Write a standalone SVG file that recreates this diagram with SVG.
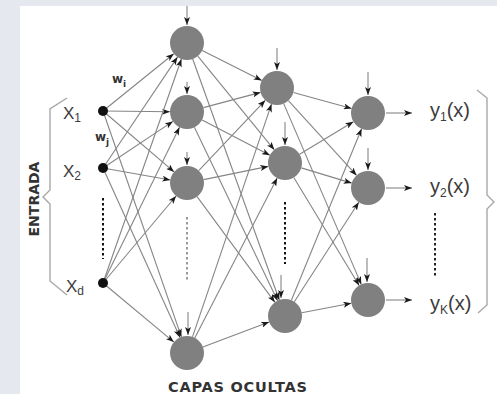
<svg xmlns="http://www.w3.org/2000/svg" width="497" height="394" viewBox="0 0 497 394">
<style>
.e{stroke:#858585;stroke-width:1.1;fill:none;marker-end:url(#ah)}
.b{stroke:#858585;stroke-width:1.1;fill:none;marker-end:url(#ah)}
.n{fill:#808080}
.d{fill:#111}
.lbl{font-family:"Liberation Sans",Arial,sans-serif;fill:#3c3c3c}
.bold{font-family:"DejaVu Sans",sans-serif;font-weight:bold;fill:#333}
.dot{stroke-dasharray:2.5 2.5;stroke-width:2;fill:none}
.br{stroke:#a8a8a8;stroke-width:1.4;fill:none}
</style>
<defs>
<marker id="ah" markerWidth="8" markerHeight="6" refX="8" refY="3" orient="auto" markerUnits="userSpaceOnUse">
<path d="M0,0 L8,3 L0,6 L2,3 Z" fill="#1a1a1a"/>
</marker>
</defs>
<rect x="0" y="0" width="497" height="394" fill="#e5e8ee"/>
<rect x="20" y="6" width="477" height="388" fill="#ffffff"/>

<g id="connectors">
<!-- input to hidden 1 -->
<line class="e" x1="103" y1="111" x2="173.8" y2="53.7"/>
<line class="e" x1="103" y1="111" x2="170" y2="111.8"/>
<line class="e" x1="103" y1="111" x2="174.1" y2="171.9"/>
<line class="e" x1="103" y1="111" x2="181.4" y2="336.9"/>
<line class="e" x1="103" y1="168" x2="177.5" y2="57.1"/>
<line class="e" x1="103" y1="168" x2="172.9" y2="121.4"/>
<line class="e" x1="103" y1="168" x2="170.3" y2="180"/>
<line class="e" x1="103" y1="168" x2="180" y2="337.5"/>
<line class="e" x1="103" y1="283" x2="181.4" y2="59"/>
<line class="e" x1="103" y1="283" x2="179.5" y2="127.3"/>
<line class="e" x1="103" y1="283" x2="176.1" y2="196"/>
<line class="e" x1="103" y1="283" x2="173.9" y2="342.1"/>
<!-- hidden 1 to hidden 2 -->
<line class="e" x1="202.2" y1="50.6" x2="261.8" y2="80.4"/>
<line class="e" x1="197.8" y1="56.2" x2="274.3" y2="149.8"/>
<line class="e" x1="192.7" y1="59" x2="279.3" y2="300"/>
<line class="e" x1="203.4" y1="107.6" x2="260.6" y2="92.4"/>
<line class="e" x1="202.1" y1="119.9" x2="269.9" y2="155.2"/>
<line class="e" x1="194.4" y1="127.3" x2="277.6" y2="300.7"/>
<line class="e" x1="198.7" y1="170.7" x2="265.3" y2="100.3"/>
<line class="e" x1="203.7" y1="179.6" x2="268.3" y2="166.4"/>
<line class="e" x1="197.1" y1="196.7" x2="274.9" y2="302.3"/>
<line class="e" x1="192.5" y1="336.9" x2="271.5" y2="104.1"/>
<line class="e" x1="194.8" y1="337.9" x2="277.2" y2="178.1"/>
<line class="e" x1="202.9" y1="347" x2="269.1" y2="322"/>
<!-- hidden 2 to output -->
<line class="e" x1="293.4" y1="92.5" x2="351.6" y2="108.5"/>
<line class="e" x1="288.4" y1="100.6" x2="356.6" y2="175.4"/>
<line class="e" x1="283.7" y1="103.6" x2="361.3" y2="284.4"/>
<line class="e" x1="299.6" y1="154.2" x2="353.4" y2="121.8"/>
<line class="e" x1="301.3" y1="167.9" x2="351.7" y2="183.1"/>
<line class="e" x1="293.8" y1="177.5" x2="359.2" y2="285.5"/>
<line class="e" x1="291.4" y1="300.3" x2="361.6" y2="128.7"/>
<line class="e" x1="294.3" y1="301.7" x2="358.8" y2="202.3"/>
<line class="e" x1="301.7" y1="312.8" x2="351.3" y2="303.2"/>
<!-- bias arrows -->
<line class="b" x1="187" y1="6" x2="187" y2="25"/>
<line class="b" x1="187" y1="82" x2="187" y2="94"/>
<line class="b" x1="187" y1="152" x2="187" y2="165"/>
<line class="b" x1="188" y1="312" x2="188" y2="335"/>
<line class="b" x1="277" y1="48" x2="277" y2="70"/>
<line class="b" x1="285" y1="122" x2="285" y2="145"/>
<line class="b" x1="281" y1="275" x2="281" y2="298"/>
<line class="b" x1="368" y1="72" x2="368" y2="95"/>
<line class="b" x1="368" y1="148" x2="368" y2="170"/>
<line class="b" x1="367" y1="258" x2="367" y2="282"/>
<!-- outputs -->
<line class="b" x1="386" y1="113" x2="412" y2="113"/>
<line class="b" x1="386" y1="188" x2="412" y2="188"/>
<line class="b" x1="386" y1="300" x2="412" y2="300"/>
</g>

<!-- dotted continuation lines -->
<line class="dot" stroke="#111" x1="103" y1="198" x2="103" y2="259"/>
<line class="dot" stroke="#9a9a9a" x1="187" y1="217" x2="187" y2="281"/>
<line class="dot" stroke="#111" x1="285" y1="202" x2="285" y2="264"/>
<line class="dot" stroke="#222" x1="435" y1="213" x2="435" y2="276"/>

<!-- braces -->
<path class="br" d="M67,98 L50,109 L50,190 L43,197 L50,204 L50,281 L67,295"/>
<path class="br" d="M477,90 L487,98 L487,195 L494,202 L487,209 L487,305 L478,313"/>

<g id="x1"><circle class="d" cx="103" cy="111" r="5"/><text class="lbl" x="63" y="119" font-size="17">X<tspan font-size="12" dy="3">1</tspan></text></g>
<g id="x2"><circle class="d" cx="103" cy="168" r="5"/><text class="lbl" x="63" y="177" font-size="17">X<tspan font-size="12" dy="3">2</tspan></text></g>
<g id="xd"><circle class="d" cx="103" cy="283" r="5"/><text class="lbl" x="66" y="292" font-size="17" fill="#4a5566">X<tspan font-size="12" dy="3">d</tspan></text></g>

<g id="h1a"><circle class="n" cx="187" cy="43" r="17"/></g>
<g id="h1b"><circle class="n" cx="187" cy="112" r="17"/></g>
<g id="h1c"><circle class="n" cx="187" cy="183" r="17"/></g>
<g id="h1d"><circle class="n" cx="187" cy="353" r="17"/></g>
<g id="h2a"><circle class="n" cx="277" cy="88" r="17"/></g>
<g id="h2b"><circle class="n" cx="285" cy="163" r="17"/></g>
<g id="h2c"><circle class="n" cx="285" cy="316" r="17"/></g>
<g id="o1"><circle class="n" cx="368" cy="113" r="17"/><text class="lbl" x="430" y="117" font-size="20">y<tspan font-size="12" dy="4">1</tspan><tspan dy="-4">(x)</tspan></text></g>
<g id="o2"><circle class="n" cx="368" cy="188" r="17"/><text class="lbl" x="430" y="193" font-size="20">y<tspan font-size="12" dy="4">2</tspan><tspan dy="-4">(x)</tspan></text></g>
<g id="o3"><circle class="n" cx="368" cy="300" r="17"/><text class="lbl" x="430" y="310" font-size="20">y<tspan font-size="12" dy="4">K</tspan><tspan dy="-4">(x)</tspan></text></g>

<text class="bold" x="112" y="83" font-size="12">w<tspan font-size="9" dy="4">i</tspan></text>
<text class="bold" x="95" y="141" font-size="12">w<tspan font-size="9" dy="4">j</tspan></text>
<text class="bold" font-size="14" text-anchor="middle" transform="translate(39,199) rotate(-90)">ENTRADA</text>
<text class="bold" x="168" y="392" font-size="14.5" textLength="139">CAPAS OCULTAS</text>
</svg>
